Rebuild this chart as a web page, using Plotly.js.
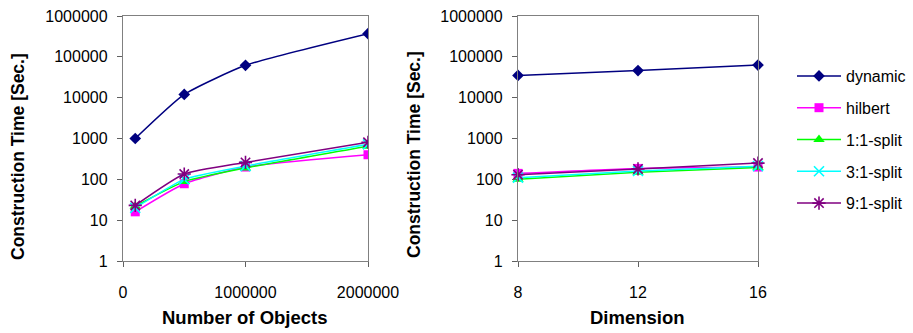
<!DOCTYPE html>
<html><head><meta charset="utf-8">
<script src="https://cdn.plot.ly/plotly-3.0.1.min.js"></script>
<style>html,body{margin:0;padding:0;background:#fff}#chart{width:913px;height:333px}</style>
</head><body><div id="chart"></div>
<script>
// ---- data ----
const seriesNames = ['dynamic', 'hilbert', '1:1-split', '3:1-split', '9:1-split'];
const objectsX = [100000, 500000, 1000000, 2000000];
const dimensionX = [8, 12, 16];
const objDynamic = [1000, 12000, 62000, 370000];
const objHilbert = [16, 78, 200, 400];
const objSplit11 = [22, 88, 190, 650];
const objSplit31 = [20, 100, 210, 720];
const objSplit91 = [23, 135, 260, 810];
const dimDynamic = [35000, 46000, 63000];
const dimHilbert = [140, 185, 200];
const dimSplit11 = [100, 150, 195];
const dimSplit31 = [110, 160, 210];
const dimSplit91 = [130, 180, 250];
const yTickVals = [1, 10, 100, 1000, 10000, 100000, 1000000];
const yTickText = ['1', '10', '100', '1000', '10000', '100000', '1000000'];
const xTickVals1 = [0, 1000000, 2000000];
const xTickText1 = ['0', '1000000', '2000000'];
const xTickVals2 = [8, 12, 16];
const xTickText2 = ['8', '12', '16'];

// ---- styles ----
const colors = ['#000080', '#FF00FF', '#00FF00', '#00FFFF', '#800080'];
const symbols = ['diamond', 'square', 'triangle-up', 'x-thin-open', 'asterisk-open'];
const sizes = [9, 9, 10, 10, 11];
const FONT = 'Arial, "Liberation Sans", sans-serif';

const objSeries = [objDynamic, objHilbert, objSplit11, objSplit31, objSplit91];
const dimSeries = [dimDynamic, dimHilbert, dimSplit11, dimSplit31, dimSplit91];

const traces = [];
seriesNames.forEach((name, i) => {
  const marker = {symbol: symbols[i], size: sizes[i], color: colors[i], line: {color: colors[i], width: i >= 3 ? 1.6 : 0}};
  traces.push({x: objectsX, y: objSeries[i], name: name, type: 'scatter', mode: 'lines+markers',
    xaxis: 'x', yaxis: 'y', legendgroup: 'g' + i, showlegend: true,
    line: {color: colors[i], width: 1.5, shape: 'spline', smoothing: 0.5}, marker: marker});
});
seriesNames.forEach((name, i) => {
  const marker = {symbol: symbols[i], size: sizes[i], color: colors[i], line: {color: colors[i], width: i >= 3 ? 1.6 : 0}};
  traces.push({x: dimensionX, y: dimSeries[i], name: name, type: 'scatter', mode: 'lines+markers',
    xaxis: 'x2', yaxis: 'y2', legendgroup: 'g' + i, showlegend: false, cliponaxis: false,
    line: {color: colors[i], width: 1.5, shape: 'spline', smoothing: 0.5}, marker: marker});
});

const tickFont = {family: FONT, size: 16, color: '#000'};
const axisCommon = {showgrid: false, zeroline: false, showline: true, mirror: true, linecolor: '#808080', linewidth: 1.2,
  ticks: 'outside', ticklen: 5, tickcolor: '#606060', tickwidth: 1, tickfont: tickFont};
const yBase = Object.assign({}, axisCommon, {type: 'log', range: [0, 6], tickvals: yTickVals, ticktext: yTickText,
  domain: [1 - 261 / 333, 1 - 16 / 333], ticklabelstandoff: 6});
const overlayTick = {showgrid: false, zeroline: false, showline: false, ticks: 'inside', ticklen: 5, tickcolor: '#606060', tickwidth: 1, showticklabels: false};

const layout = {
  width: 913, height: 333, margin: {l: 0, r: 0, t: 0, b: 0},
  paper_bgcolor: '#fff', plot_bgcolor: '#fff', font: {family: FONT, color: '#000'},
  xaxis: Object.assign({}, axisCommon, {domain: [123 / 913, 368 / 913], range: [0, 2000000], tickvals: xTickVals1, ticktext: xTickText1, anchor: 'y', ticklabelstandoff: 12}),
  yaxis: Object.assign({}, yBase, {anchor: 'x'}),
  xaxis2: Object.assign({}, axisCommon, {domain: [518 / 913, 758 / 913], range: [8, 16], tickvals: xTickVals2, ticktext: xTickText2, anchor: 'y2', ticklabelstandoff: 12}),
  yaxis2: Object.assign({}, yBase, {anchor: 'x2'}),
  xaxis3: Object.assign({}, overlayTick, {overlaying: 'x', anchor: 'y3', range: [0, 2000000], tickvals: xTickVals1, side: 'bottom'}),
  yaxis3: Object.assign({}, overlayTick, {overlaying: 'y', anchor: 'x3', type: 'log', range: [0, 6], tickvals: yTickVals, side: 'left'}),
  xaxis4: Object.assign({}, overlayTick, {overlaying: 'x2', anchor: 'y4', range: [8, 16], tickvals: xTickVals2, side: 'bottom'}),
  yaxis4: Object.assign({}, overlayTick, {overlaying: 'y2', anchor: 'x4', type: 'log', range: [0, 6], tickvals: yTickVals, side: 'left'}),
  legend: {x: 792 / 913, y: 1 - 59 / 333, xanchor: 'left', yanchor: 'top', font: {family: FONT, size: 16, color: '#000'},
    bgcolor: 'rgba(0,0,0,0)', borderwidth: 0, tracegroupgap: 8, itemwidth: 44},
  annotations: [
    {text: '<b>Construction Time [Sec.]</b>', x: 18 / 913, y: 1 - 157 / 333, xref: 'paper', yref: 'paper', textangle: -90, showarrow: false, xanchor: 'center', yanchor: 'middle', font: {family: FONT, size: 17.5, color: '#000'}},
    {text: '<b>Construction Time [Sec.]</b>', x: 414 / 913, y: 1 - 155 / 333, xref: 'paper', yref: 'paper', textangle: -90, showarrow: false, xanchor: 'center', yanchor: 'middle', font: {family: FONT, size: 17.5, color: '#000'}},
    {text: '<b>Number of Objects</b>', x: 245.5 / 913, y: 1 - 317 / 333, xref: 'paper', yref: 'paper', showarrow: false, xanchor: 'center', yanchor: 'middle', font: {family: FONT, size: 18.5, color: '#000'}},
    {text: '<b>Dimension</b>', x: 637.5 / 913, y: 1 - 317 / 333, xref: 'paper', yref: 'paper', showarrow: false, xanchor: 'center', yanchor: 'middle', font: {family: FONT, size: 18.5, color: '#000'}}
  ]
};

Plotly.newPlot('chart', traces, layout, {staticPlot: true, displayModeBar: false});
</script>
</body></html>
